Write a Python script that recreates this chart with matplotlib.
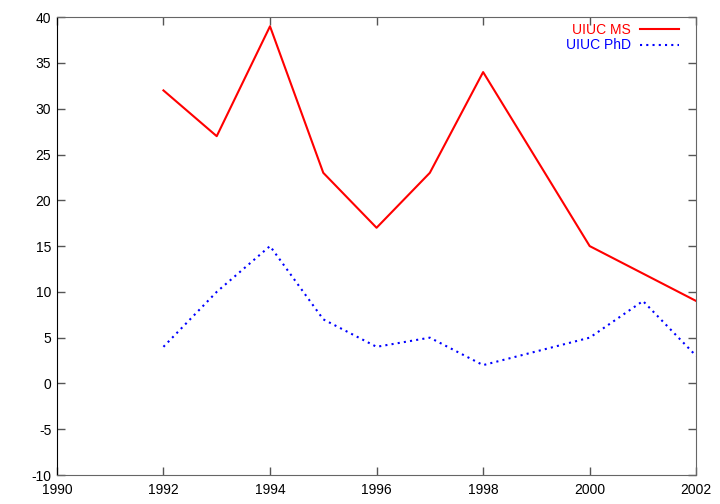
import matplotlib
matplotlib.use("Agg")
import matplotlib.pyplot as plt

plt.rcParams['font.family'] = ['Liberation Sans', 'DejaVu Sans']
plt.rcParams['axes.unicode_minus'] = False

ms_years = [1992, 1993, 1994, 1995, 1996, 1997, 1998, 2000, 2002]
ms_counts = [32, 27, 39, 23, 17, 23, 34, 15, 9]
phd_years = [1992, 1993, 1994, 1995, 1996, 1997, 1998, 2000, 2001, 2002]
phd_counts = [4, 10, 15, 7, 4, 5, 2, 5, 9, 3]

fig = plt.figure(figsize=(7.2, 5.04), dpi=100)
ax = fig.add_axes([0.079, 0.0575, 0.888, 0.9085])

ax.plot(ms_years, ms_counts, color="red", linewidth=1.5, label="UIUC MS")
ax.plot(phd_years, phd_counts, color="blue", linewidth=1.5, linestyle=(0, (1, 2)),
        label="UIUC PhD")

ax.set_xlim(1990, 2002)
ax.set_ylim(-10, 40)
ax.set_xticks(range(1990, 2003, 2))
ax.set_yticks(range(-10, 41, 5))
ax.tick_params(direction="in", length=6, width=1, top=True, right=True,
               labelsize=10, color="#555555", pad=4)
ax.tick_params(axis="x", pad=6)

for side in ["top", "right", "bottom"]:
    ax.spines[side].set_color("#666666")
ax.spines["left"].set_color("black")

ax.legend(loc="upper right", frameon=False, markerfirst=False, labelcolor="linecolor",
          fontsize=10, handlelength=2.8, handletextpad=0.65, labelspacing=0.1,
          borderpad=0, borderaxespad=0, bbox_to_anchor=(0.973, 0.987))

fig.savefig("out.png", dpi=100)
